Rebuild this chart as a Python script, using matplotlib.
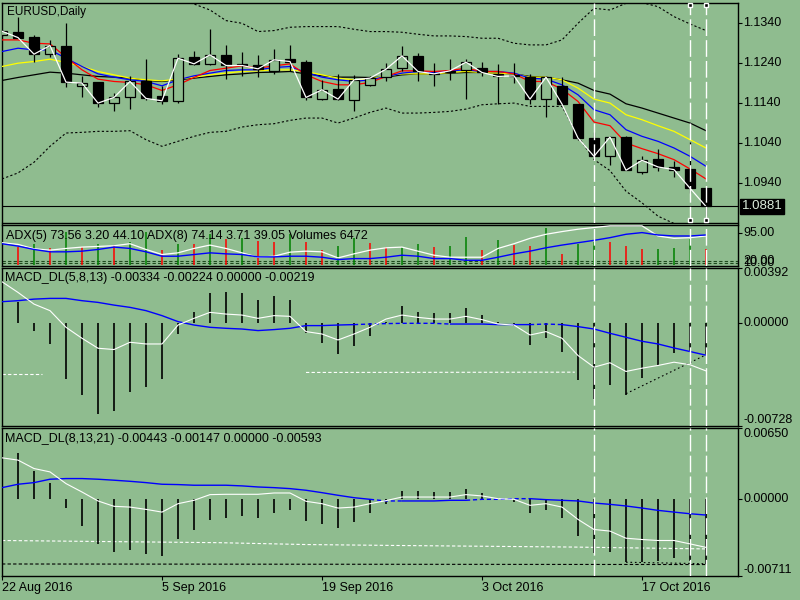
import numpy as np
import matplotlib
matplotlib.use("Agg")
import matplotlib.pyplot as plt
from matplotlib.transforms import blended_transform_factory

# ---------------- data ----------------
DATE_LABELS = ["22 Aug 2016", "5 Sep 2016", "19 Sep 2016", "3 Oct 2016", "17 Oct 2016"]
DATE_LABEL_BARS = [0, 10, 20, 30, 40]

OPEN = [1.13108, 1.13175, 1.13050, 1.12625, 1.12833, 1.11833, 1.11917, 1.11400, 1.11542, 1.11942,
        1.11583, 1.11458, 1.12550, 1.12383, 1.12608, 1.12375, 1.12358, 1.12208, 1.12500, 1.12442,
        1.11500, 1.11758, 1.11483, 1.11858, 1.12050, 1.12275, 1.12583, 1.12150, 1.12167, 1.12233,
        1.12275, 1.12133, 1.12108, 1.12050, 1.11500, 1.11833, 1.11375, 1.10525, 1.10067, 1.10550,
        1.09667, 1.10000, 1.09800, 1.09750, 1.09275]
HIGH = [1.13230, 1.13567, 1.13108, 1.12983, 1.13400, 1.12083, 1.11917, 1.11650, 1.12083, 1.12500,
        1.11833, 1.12625, 1.12708, 1.13250, 1.12858, 1.12692, 1.12608, 1.12758, 1.12858, 1.12483,
        1.11983, 1.12133, 1.12108, 1.12083, 1.12400, 1.12833, 1.12650, 1.12400, 1.12500, 1.12500,
        1.12442, 1.12375, 1.12400, 1.12133, 1.12067, 1.12050, 1.11375, 1.10667, 1.10567, 1.10567,
        1.10067, 1.10250, 1.09950, 1.10417, 1.09275]
LOW = [1.13090, 1.13030, 1.12442, 1.12567, 1.11800, 1.11542, 1.11300, 1.11192, 1.11250, 1.11483,
       1.11375, 1.11400, 1.12358, 1.12358, 1.12000, 1.12083, 1.12042, 1.12133, 1.12192, 1.11483,
       1.11483, 1.11483, 1.11192, 1.11833, 1.11942, 1.12192, 1.11942, 1.11817, 1.11967, 1.11500,
       1.12083, 1.11383, 1.11900, 1.11383, 1.11050, 1.11358, 1.10483, 1.10067, 1.09842, 1.09717,
       1.09625, 1.09692, 1.09550, 1.09150, 1.08567]
CLOSE = [1.13200, 1.13042, 1.12625, 1.12842, 1.11925, 1.11900, 1.11400, 1.11542, 1.11942, 1.11517,
         1.11458, 1.12525, 1.12383, 1.12608, 1.12342, 1.12342, 1.12258, 1.12483, 1.12442, 1.11542,
         1.11733, 1.11500, 1.11983, 1.12025, 1.12250, 1.12583, 1.12192, 1.12133, 1.12208, 1.12425,
         1.12167, 1.12067, 1.12083, 1.11500, 1.12050, 1.11375, 1.10525, 1.10067, 1.10550, 1.09717,
         1.09967, 1.09800, 1.09733, 1.09267, 1.08810]

MA_RED = [1.12983, 1.12983, 1.12900, 1.12883, 1.12550, 1.12233, 1.12000, 1.11942, 1.11917, 1.11858,
          1.11717, 1.11858, 1.12042, 1.12217, 1.12275, 1.12333, 1.12275, 1.12333, 1.12383, 1.12108,
          1.11942, 1.11858, 1.11858, 1.11917, 1.12067, 1.12208, 1.12208, 1.12192, 1.12217, 1.12275,
          1.12192, 1.12192, 1.12133, 1.11942, 1.11942, 1.11750, 1.11442, 1.10925, 1.10833, 1.10400,
          1.10258, 1.10133, 1.09983, 1.09750, 1.09500]
MA_BLUE = [1.12692, 1.12775, 1.12733, 1.12733, 1.12525, 1.12317, 1.12133, 1.12050, 1.11983, 1.11942,
           1.11833, 1.11983, 1.12083, 1.12150, 1.12217, 1.12233, 1.12233, 1.12292, 1.12317, 1.12167,
           1.12050, 1.11983, 1.11942, 1.11983, 1.12067, 1.12150, 1.12192, 1.12167, 1.12208, 1.12233,
           1.12192, 1.12192, 1.12150, 1.12025, 1.12000, 1.11858, 1.11608, 1.11233, 1.11108, 1.10733,
           1.10567, 1.10442, 1.10275, 1.10067, 1.09817]
MA_YELLOW = [1.12317, 1.12400, 1.12442, 1.12500, 1.12417, 1.12317, 1.12192, 1.12108, 1.12025, 1.11983,
             1.11958, 1.12000, 1.12050, 1.12108, 1.12150, 1.12192, 1.12208, 1.12233, 1.12233, 1.12192,
             1.12108, 1.12025, 1.11983, 1.12000, 1.12083, 1.12133, 1.12133, 1.12133, 1.12167, 1.12192,
             1.12167, 1.12150, 1.12133, 1.12050, 1.12050, 1.11983, 1.11775, 1.11500, 1.11400, 1.11108,
             1.10983, 1.10833, 1.10692, 1.10483, 1.10275]
MA_BLACK = [1.11967, 1.12042, 1.12108, 1.12175, 1.12150, 1.12108, 1.12067, 1.12050, 1.12025, 1.11967,
            1.11942, 1.11983, 1.12025, 1.12067, 1.12108, 1.12133, 1.12167, 1.12175, 1.12192, 1.12133,
            1.12083, 1.12050, 1.12050, 1.12042, 1.12050, 1.12108, 1.12133, 1.12133, 1.12150, 1.12167,
            1.12167, 1.12150, 1.12133, 1.12067, 1.12050, 1.11983, 1.11900, 1.11717, 1.11625, 1.11383,
            1.11275, 1.11150, 1.11025, 1.10900, 1.10708]
BB_UPPER = [1.14317, 1.14358, 1.14400, 1.14400, 1.14317, 1.14233, 1.14192, 1.14150, 1.14108, 1.14067,
            1.14025, 1.13983, 1.13883, 1.13733, 1.13467, 1.13400, 1.13192, 1.13217, 1.13300, 1.13317,
            1.13317, 1.13317, 1.13250, 1.13192, 1.13192, 1.13175, 1.13125, 1.13083, 1.13083, 1.13067,
            1.13025, 1.13025, 1.12900, 1.12858, 1.12858, 1.12983, 1.13400, 1.13775, 1.13733, 1.13900,
            1.13917, 1.13817, 1.13567, 1.13383, 1.13217]
BB_LOWER = [1.09500, 1.09650, 1.09917, 1.10317, 1.10650, 1.10667, 1.10692, 1.10692, 1.10708, 1.10483,
            1.10317, 1.10442, 1.10567, 1.10667, 1.10692, 1.10800, 1.10858, 1.10883, 1.10967, 1.11025,
            1.11025, 1.10900, 1.11025, 1.11167, 1.11275, 1.11150, 1.11150, 1.11167, 1.11192, 1.11250,
            1.11358, 1.11383, 1.11400, 1.11317, 1.11317, 1.11317, 1.10567, 1.09983, 1.09708, 1.09192,
            1.08900, 1.08567, 1.08383, 1.08233, 1.08150]
BID = 1.0881
PRICE_TICKS = [1.1340, 1.1240, 1.1140, 1.1040, 1.0940]
PRICE_TICK_LABELS = ["1.1340", "1.1240", "1.1140", "1.1040", "1.0940"]
VLINE_BARS = [37, 43, 44]
SELECTED_VLINE_BARS = [43, 44]

ADX_WHITE = [65, 60, 47, 43, 48, 52, 54, 56, 62, 45, 30, 35, 48, 58, 48, 35, 22, 25, 37, 40,
             38, 20, 32, 43, 50, 52, 40, 28, 22, 22, 22, 48, 62, 78, 90, 98, 105, 110, 115, 115,
             115, 85, 78, 80, 85]
ADX_BLUE = [62, 55, 45, 38, 38, 40, 45, 52, 48, 38, 25, 25, 30, 35, 32, 30, 23, 23, 25, 25,
            22, 15, 18, 18, 22, 28, 25, 18, 18, 13, 13, 22, 32, 40, 50, 58, 65, 72, 80, 90,
            95, 88, 85, 85, 88]
VOLUME = [np.nan, 52, 60, 50, 98, 52, 62, 58, 68, 98, 43, 60, 60, 90, 75, 78, 70, 68, 90, 68,
          43, 55, 80, 63, 52, 52, 62, 52, 55, 83, 43, 73, 58, 55, 110, 32, 62, 68, 68, 55,
          47, 47, 50, 77, 47]
VOLUME_UP = [0, 0, 1, 0, 1, 0, 1, 0, 1, 1, 0, 1, 0, 1, 0, 1, 0, 0, 1, 0,
             0, 1, 1, 0, 0, 1, 1, 0, 1, 1, 0, 1, 0, 0, 1, 0, 1, 1, 0, 0,
             0, 1, 1, 1, 0]
ADX_LEVELS = [12, 6]
ADX_LEVEL_LABELS = ["20.00", "10.00"]

MACD1_HIST = [np.nan, 0.00152, -0.00056, -0.00145, -0.00390, -0.00506, -0.00635, -0.00616, -0.00483, -0.00448,
              -0.00390, -0.00075, 0.00077, 0.00210, 0.00217, 0.00210, 0.00166, 0.00189, 0.00166, -0.00070,
              -0.00138, -0.00215, -0.00156, -0.00086, 0.00010, 0.00119, 0.00082, 0.00070, 0.00070, 0.00105,
              0.00058, 0.00012, -0.00016, -0.00152, -0.00105, -0.00203, -0.00401, -0.00534, -0.00432, -0.00502,
              -0.00385, -0.00296, -0.00208, -0.00198, -0.00219]
MACD1_BLUE = [0.00152, 0.00159, 0.00170, 0.00175, 0.00175, 0.00159, 0.00147, 0.00128, 0.00112, 0.00089,
              0.00054, 0.00012, -0.00012, -0.00028, -0.00035, -0.00040, -0.00051, -0.00044, -0.00035, -0.00016,
              -0.00016, -0.00012, -0.00009, -0.00005, -0.00002, 0.00000, 0.00000, 0.00000, -0.00005, -0.00005,
              -0.00005, -0.00009, -0.00009, -0.00009, -0.00005, -0.00009, -0.00023, -0.00040, -0.00070, -0.00098,
              -0.00126, -0.00145, -0.00173, -0.00198, -0.00224]
MACD1_WHITE = [0.00292, 0.00217, 0.00135, 0.00089, -0.00028, -0.00105, -0.00175, -0.00184, -0.00133, -0.00145,
               -0.00145, -0.00012, 0.00035, 0.00077, 0.00065, 0.00058, 0.00035, 0.00054, 0.00049, -0.00058,
               -0.00075, -0.00117, -0.00075, -0.00028, 0.00030, 0.00058, 0.00042, 0.00030, 0.00030, 0.00049,
               0.00026, -0.00005, -0.00012, -0.00082, -0.00058, -0.00105, -0.00226, -0.00308, -0.00277, -0.00338,
               -0.00315, -0.00296, -0.00273, -0.00291, -0.00334]
MACD1_LEVEL_SEGMENTS = [([0, 2.5], [-0.00359, -0.00359]), ([19, 35.8], [-0.00345, -0.00343])]
MACD1_DIVERGENCE = ([39, 44], [-0.00494, -0.00221])
MACD1_TICKS = [0.00392, 0.0, -0.00721]
MACD1_TICK_LABELS = ["0.00392", "0.00000", "-0.00728"]

MACD2_HIST = [np.nan, 0.00423, 0.00257, 0.00147, -0.00083, -0.00248, -0.00411, -0.00487, -0.00466, -0.00503,
              -0.00524, -0.00365, -0.00282, -0.00190, -0.00172, -0.00156, -0.00172, -0.00126, -0.00098, -0.00202,
              -0.00227, -0.00267, -0.00211, -0.00126, -0.00043, 0.00074, 0.00074, 0.00064, 0.00064, 0.00095,
              0.00058, 0.00009, -0.00028, -0.00126, -0.00098, -0.00175, -0.00340, -0.00493, -0.00481, -0.00579,
              -0.00579, -0.00564, -0.00543, -0.00564, -0.00593]
MACD2_BLUE = [0.00104, 0.00135, 0.00150, 0.00181, 0.00187, 0.00187, 0.00181, 0.00172, 0.00162, 0.00150,
              0.00135, 0.00132, 0.00126, 0.00126, 0.00126, 0.00120, 0.00110, 0.00104, 0.00095, 0.00080,
              0.00058, 0.00034, 0.00012, -0.00003, -0.00018, -0.00018, -0.00018, -0.00018, -0.00012, -0.00012,
              -0.00003, -0.00003, 0.00003, 0.00003, -0.00006, -0.00012, -0.00018, -0.00037, -0.00049, -0.00064,
              -0.00083, -0.00104, -0.00120, -0.00135, -0.00147]
MACD2_WHITE = [0.00377, 0.00356, 0.00279, 0.00248, 0.00141, 0.00064, -0.00018, -0.00067, -0.00074, -0.00095,
               -0.00120, -0.00043, -0.00012, 0.00040, 0.00043, 0.00043, 0.00043, 0.00055, 0.00055, -0.00021,
               -0.00043, -0.00083, -0.00074, -0.00043, -0.00015, 0.00018, 0.00018, 0.00018, 0.00018, 0.00040,
               0.00028, 0.00003, -0.00003, -0.00058, -0.00043, -0.00074, -0.00187, -0.00279, -0.00294, -0.00359,
               -0.00371, -0.00380, -0.00380, -0.00411, -0.00443]
MACD2_WLEVEL = ([0, 13.6, 19, 25, 35.7, 44], [-0.00380, -0.00400, -0.00417, -0.00426, -0.00440, -0.00457])
MACD2_BLEVEL = ([0, 44], [-0.00595, -0.00600])
MACD2_DIVERGENCE = ([39, 44], [-0.00579, -0.00593])
MACD2_TICKS = [0.00650, 0.0, -0.00705]
MACD2_TICK_LABELS = ["0.00650", "0.00000", "-0.00711"]

TITLE = "EURUSD,Daily"
ADX_TITLE = "ADX(5) 73.56 3.20 44.10 ADX(8) 74.14 3.71 39.05 Volumes 6472"
MACD1_TITLE = "MACD_DL(5,8,13) -0.00334 -0.00224 0.00000 -0.00219"
MACD2_TITLE = "MACD_DL(8,13,21) -0.00443 -0.00147 0.00000 -0.00593"

# ---------------- style / layout ----------------
BG = "#8FBC8F"
FS = 9
plt.rcParams["font.family"] = ["Liberation Sans", "DejaVu Sans"]
W, H = 800, 600
LEFT, RIGHT = 2, 738
NB = len(CLOSE)
x = np.arange(NB)

fig = plt.figure(figsize=(8, 6), dpi=100, facecolor=BG)


def panel(top, bottom):
    ax = fig.add_axes([LEFT / W, 1 - bottom / H, (RIGHT - LEFT) / W, (bottom - top) / H])
    ax.set_facecolor(BG)
    ax.set_xlim(0, 46)
    ax.set_xticks([])
    for s in ax.spines.values():
        s.set_color("black")
        s.set_linewidth(1.0)
    return ax


def right_labels(ax, vals, labels, vas):
    ax.yaxis.tick_right()
    ax.set_yticks(vals)
    ax.set_yticklabels([])
    ax.tick_params(axis="y", direction="out", length=3, width=0.8, color="black")
    tr = blended_transform_factory(ax.transAxes, ax.transData)
    for v, lab, va in zip(vals, labels, vas):
        ax.text(1.0 + 5.5 / (RIGHT - LEFT), v, lab, transform=tr, ha="left", va=va,
                fontsize=FS, color="black", clip_on=False)


def vlines_dashed(ax):
    for b in VLINE_BARS:
        ax.axvline(b, color="white", lw=1.0, dashes=(12, 3), zorder=10)


def split_line(ax, xs, ys, dotted_ranges, color, lw=1.0, zorder=4):
    style = ["-"] * (len(xs) - 1)
    for a, b in dotted_ranges:
        for k in range(a, b):
            style[k] = ":"
    start = 0
    for k in range(1, len(style) + 1):
        if k == len(style) or style[k] != style[start]:
            seg_x = xs[start:k + 1]
            seg_y = ys[start:k + 1]
            if style[start] == "-":
                ax.plot(seg_x, seg_y, color=color, lw=lw, zorder=zorder, solid_capstyle="butt")
            else:
                ax.plot(seg_x, seg_y, color=color, lw=lw, dashes=(3, 2), zorder=zorder)
            start = k


# ---------------- main price panel ----------------
ax1 = panel(3, 222.5)
ax1.set_ylim(1.08408, 1.13908)
right_labels(ax1, PRICE_TICKS, PRICE_TICK_LABELS, ["center"] * 5)

ax1.plot(x, BB_UPPER, color="black", lw=0.8, dashes=(2, 2), zorder=2)
ax1.plot(x, BB_LOWER, color="black", lw=0.8, dashes=(2, 2), zorder=2)
ax1.plot(x, MA_BLACK, color="black", lw=0.9, zorder=3)
ax1.plot(x, MA_YELLOW, color="#FFFF00", lw=0.9, zorder=3)
ax1.plot(x, MA_BLUE, color="#0000FF", lw=0.9, zorder=3)
ax1.plot(x, MA_RED, color="#FF0000", lw=0.9, zorder=3)

o = np.array(OPEN); c = np.array(CLOSE); h = np.array(HIGH); l = np.array(LOW)
ax1.vlines(x, l, h, color="black", lw=0.9, zorder=5)
body_low = np.minimum(o, c)
body_h = np.maximum(np.abs(c - o), 0.00012)
fills = ["black" if cc < oo else BG for oo, cc in zip(o, c)]
ax1.bar(x, body_h, bottom=body_low, width=0.66, color=fills, edgecolor="black",
        linewidth=0.9, zorder=6)
ax1.plot(x, CLOSE, color="white", lw=0.9, zorder=7)

ax1.axhline(BID, color="black", lw=0.8, zorder=8)
trb = blended_transform_factory(ax1.transAxes, ax1.transData)
ax1.text(1.0 + 3.5 / (RIGHT - LEFT), BID, "1.0881", transform=trb, ha="left", va="center",
         fontsize=FS + 0.5, color="#dcecdc", clip_on=False,
         bbox=dict(facecolor="black", edgecolor="black", pad=1.0))
vlines_dashed(ax1)
trh = blended_transform_factory(ax1.transData, ax1.transAxes)
for b in SELECTED_VLINE_BARS:
    ax1.plot([b, b], [0.99, 0.012], "s", ms=3.5, mfc="black", mec="white", mew=1.0,
             transform=trh, zorder=12, clip_on=False)
fig.text(7 / W, 1 - 12 / H, TITLE, fontsize=8.5, va="center", ha="left", color="black")

# ---------------- ADX + volumes panel ----------------
ax2 = panel(224.5, 266)
ax2.set_ylim(-4, 119)
right_labels(ax2, [95], ["95.00"], ["center"])
tr2 = blended_transform_factory(ax2.transAxes, ax2.transData)
for lv, lab in zip(ADX_LEVELS, ADX_LEVEL_LABELS):
    ax2.axhline(lv, color="#1d4a1d", lw=0.8, dashes=(3, 2), zorder=2)
    ax2.text(1.0 + 5.5 / (RIGHT - LEFT), lv, lab, transform=tr2, ha="left", va="center",
             fontsize=FS, color="black", clip_on=False)
vol_colors = ["#008000" if u else "#FF0000" for u in VOLUME_UP]
ax2.vlines(x, 0, VOLUME, colors=vol_colors, lw=1.1, zorder=3)
ax2.plot(x, ADX_WHITE, color="white", lw=0.9, zorder=4)
ax2.plot(x, ADX_BLUE, color="#0000FF", lw=1.0, zorder=5)
vlines_dashed(ax2)
fig.text(6 / W, 1 - 235.5 / H, ADX_TITLE, fontsize=FS, va="center", ha="left", color="black")

# ---------------- MACD 1 ----------------
ax3 = panel(267.5, 426)
ax3.set_ylim(-0.00721, 0.00392)
right_labels(ax3, MACD1_TICKS, MACD1_TICK_LABELS, ["top", "center", "bottom"])
ax3.vlines(x, 0, MACD1_HIST, color="black", lw=1.2, zorder=3)
for sx, sy in MACD1_LEVEL_SEGMENTS:
    ax3.plot(sx, sy, color="white", lw=0.8, dashes=(3, 2), zorder=2)
ax3.plot(MACD1_DIVERGENCE[0], MACD1_DIVERGENCE[1], color="black", lw=0.8, dashes=(1.5, 2.5), zorder=4)
split_line(ax3, x, np.array(MACD1_BLUE), [(22, 28), (33, 35)], "#0000FF")
ax3.plot(x, MACD1_WHITE, color="white", lw=0.8, zorder=5)
vlines_dashed(ax3)
fig.text(5 / W, 1 - 278 / H, MACD1_TITLE, fontsize=FS, va="center", ha="left", color="black")

# ---------------- MACD 2 ----------------
ax4 = panel(428, 576)
ax4.set_ylim(-0.00705, 0.00650)
right_labels(ax4, MACD2_TICKS, MACD2_TICK_LABELS, ["top", "center", "bottom"])
ax4.vlines(x, 0, MACD2_HIST, color="black", lw=1.2, zorder=3)
ax4.plot(MACD2_WLEVEL[0], MACD2_WLEVEL[1], color="white", lw=0.8, dashes=(3, 2), zorder=2)
ax4.plot(MACD2_BLEVEL[0], MACD2_BLEVEL[1], color="black", lw=0.8, dashes=(3, 2), zorder=2)
ax4.plot(MACD2_DIVERGENCE[0], MACD2_DIVERGENCE[1], color="black", lw=0.8, dashes=(1.5, 2.5), zorder=4)
split_line(ax4, x, np.array(MACD2_BLUE), [(23, 25), (29, 33)], "#0000FF")
ax4.plot(x, MACD2_WHITE, color="white", lw=0.8, zorder=5)
vlines_dashed(ax4)
fig.text(5 / W, 1 - 439 / H, MACD2_TITLE, fontsize=FS, va="center", ha="left", color="black")

ax4.set_xticks(DATE_LABEL_BARS)
ax4.set_xticklabels(DATE_LABELS, fontsize=FS)
ax4.tick_params(axis="x", direction="out", length=3, width=0.8, pad=1.5, color="black")
for t in ax4.get_xticklabels():
    t.set_ha("left")

fig.savefig("out.png", dpi=100, facecolor=BG)
